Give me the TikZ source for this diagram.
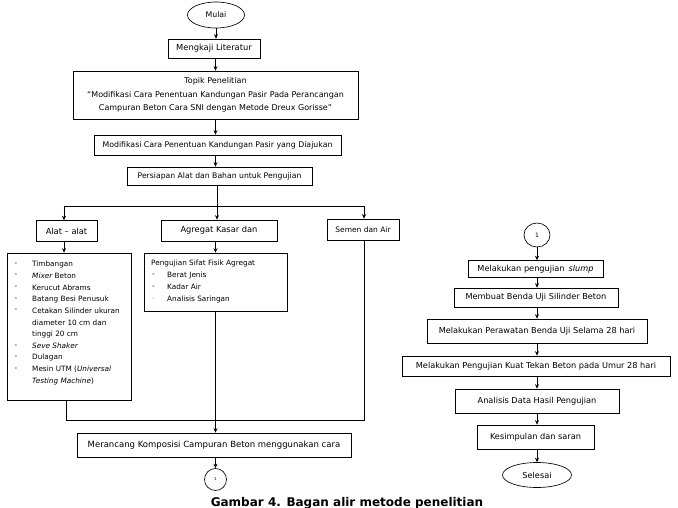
\documentclass[tikz,border=0pt]{standalone}
\usepackage{fontspec}
\setmainfont{DejaVu Sans}
\usetikzlibrary{shapes.geometric,arrows.meta}
\newcommand{\fs}[1]{\fontsize{#1}{#1}\selectfont}
\begin{document}
\begin{tikzpicture}[x=1pt,y=-1pt,
  box/.style={draw, line width=0.65pt, inner sep=1pt, font=\fs{8.2}, text=black},
  oval/.style={box, ellipse},
  arr/.style={-{Stealth[length=4.5pt,width=4pt]}, line width=0.7pt},
  ln/.style={line width=0.7pt},
  lt/.style={anchor=west, inner sep=0pt, font=\fs{7.3}}]
\useasboundingbox (0,0) rectangle (678,508);

% ---- left column ----
\node[oval, minimum width=57pt, minimum height=26pt, font=\fs{7.8}] (mulai) at (216,15) {Mulai};
\node[box, minimum width=92pt, minimum height=19pt, font=\fs{8.3}] (lit) at (214,48.5) {Mengkaji Literatur};
\node[box, minimum width=285pt, minimum height=48pt, align=center, font=\fontsize{8}{13.5}\selectfont] (topik) at (215.5,95)
  {Topik Penelitian\\“Modifikasi Cara Penentuan Kandungan Pasir Pada Perancangan\\Campuran Beton Cara SNI dengan Metode Dreux Gorisse”};
\node[box, minimum width=247pt, minimum height=20pt, font=\fs{7.8}] (modif) at (217.5,145) {Modifikasi Cara Penentuan Kandungan Pasir yang Diajukan};
\node[box, minimum width=185pt, minimum height=18pt, font=\fs{7.7}] (pers) at (219.5,176) {Persiapan Alat dan Bahan untuk Pengujian};

\node[box, minimum width=61pt, minimum height=21pt, font=\fs{8.3}] (alat) at (66.5,231) {Alat -- alat};
\node[box, minimum width=116pt, minimum height=21pt, font=\fs{8.3}] (agr) at (219,230.5) {Agregat Kasar dan};
\node[box, minimum width=72pt, minimum height=21pt, font=\fs{7.5}] (semen) at (363,229.5) {Semen dan Air};

\node[box, minimum width=124pt, minimum height=147pt] (alist) at (69,326.5) {};
\node[box, minimum width=143pt, minimum height=58pt] (glist) at (215.5,282) {};

\node[box, minimum width=274pt, minimum height=24pt, font=\fs{8.5}] (meran) at (214,445) {Merancang Komposisi Campuran Beton menggunakan cara};
\node[box, circle, minimum size=22pt, inner sep=0pt, font=\fs{4}] (c1) at (215.5,479.5) {1};

% list of tools
\foreach \t [count=\i from 0] in {Timbangan,{\itshape Mixer} Beton,Kerucut Abrams,Batang Besi Penusuk,Cetakan Silinder ukuran,diameter 10 cm dan,tinggi 20 cm,{\itshape Seve Shaker},Dulagan,Mesin UTM ({\itshape Universal},{\itshape Testing Machine})}
  \node[lt] (al\i) at (32,264+11.7*\i) {\t};
\foreach \i in {0,1,2,3,4,7,8,9}
  \node[lt] (ad\i) at (14.5,264+11.7*\i) {-};

% aggregate tests
\node[lt] (gh) at (151,263) {Pengujian Sifat Fisik Agregat};
\node[lt] (g1) at (167,275) {Berat Jenis};
\node[lt] (g2) at (167,287) {Kadar Air};
\node[lt] (g3) at (167,299) {Analisis Saringan};
\node[lt] (gd1) at (152,275) {-};
\node[lt] (gd2) at (152,287) {-};
\node[lt, text=black!35] (gd3) at (152,299) {-};

% connectors left
\draw[arr] (mulai) -- (mulai.south |- lit.north);
\draw[arr] (lit.south -| topik) -- (topik.north);
\draw[arr] (topik) -- (topik.south |- modif.north);
\draw[arr] (modif.south -| topik) -- (topik |- pers.north);

\coordinate (jc) at (217,206);
\coordinate (jl) at (64,206);
\coordinate (jr) at (364,206);
\draw[ln] (jc |- pers.south) -- (jc);
\draw[ln] (jl) -- (jr);
\draw[arr] (jl) -- (jl |- alat.north);
\draw[arr] (jc) -- (jc |- agr.north);
\draw[arr] (jr) -- (jr |- semen.north);
\draw[arr] (alat.south -| jl) -- (alist.north -| jl);
\draw[arr] (agr.south -| glist) -- (glist.north);

\coordinate (bl) at (66,420);
\coordinate (br) at (364,420);
\draw[ln] (alist.south -| bl) -- (bl) -- (br) -- (semen.south -| br);
\draw[arr] (glist.south) -- (glist.south |- meran.north);
\draw[arr] (meran.south -| c1) -- (c1.north);

% ---- right column ----
\node[oval, minimum width=26pt, minimum height=24pt, inner sep=0pt, font=\fs{6}] (c2) at (537,235) {1};
\node[box, minimum width=135pt, minimum height=17pt] (stump) at (535.5,269) {Melakukan pengujian \,{\itshape slump}};
\node[box, minimum width=164pt, minimum height=19pt] (buat) at (536,297.5) {Membuat Benda Uji Silinder Beton};
\node[box, minimum width=220pt, minimum height=24pt] (rawat) at (537,331) {Melakukan Perawatan Benda Uji Selama 28 hari};
\node[box, minimum width=268pt, minimum height=20pt] (kuat) at (536,366) {Melakukan Pengujian Kuat Tekan Beton pada Umur 28 hari};
\node[box, minimum width=164pt, minimum height=24pt] (anal) at (537,401) {Analisis Data Hasil Pengujian};
\node[box, minimum width=117pt, minimum height=24pt] (kes) at (535.5,437) {Kesimpulan dan saran};
\node[oval, minimum width=69pt, minimum height=25pt, font=\fs{8.2}] (sel) at (537,475) {Selesai};

\draw[arr] (c2) -- (c2.south |- stump.north);
\draw[arr] (stump.south -| c2) -- (c2 |- buat.north);
\draw[arr] (buat.south -| c2) -- (c2 |- rawat.north);
\draw[arr] (rawat.south -| c2) -- (c2 |- kuat.north);
\draw[arr] (kuat.south -| c2) -- (c2 |- anal.north);
\draw[arr] (anal.south -| c2) -- (c2 |- kes.north);
\draw[arr] (kes.south -| c2) -- (sel.north);

% caption
\node[anchor=base, inner sep=0pt, font=\bfseries\fs{12}] (cap) at (347,506) {Gambar 4. Bagan alir metode penelitian};
\end{tikzpicture}
\end{document}
